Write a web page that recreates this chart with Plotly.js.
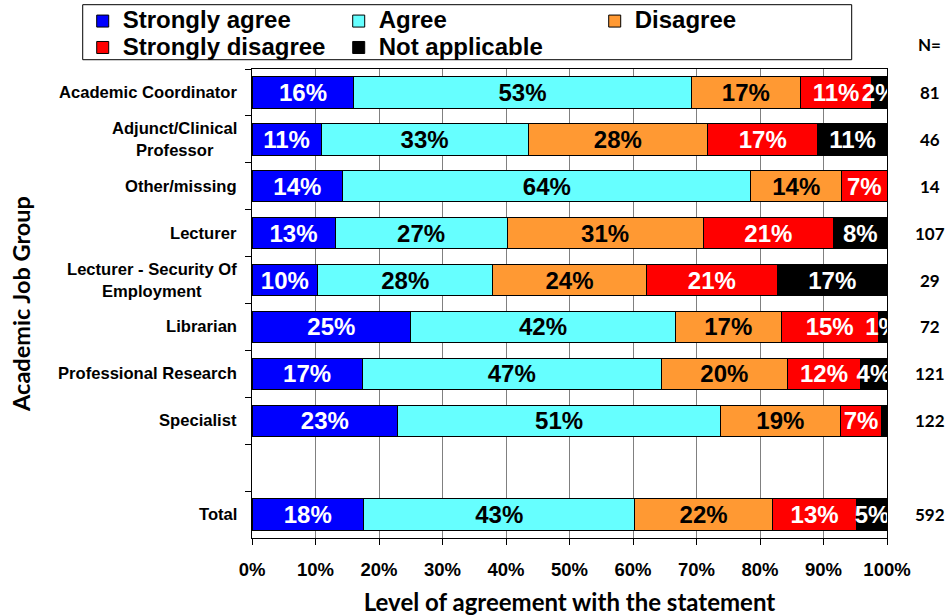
<!DOCTYPE html>
<html>
<head>
<meta charset="utf-8">
<script src="https://cdn.plot.ly/plotly-3.0.1.min.js"></script>
<style>
  html, body { margin: 0; padding: 0; background: #ffffff; }
  #chart { width: 945px; height: 616px; }
</style>
</head>
<body>
<div id="chart"></div>
<script>
// Academic job groups, top to bottom (blank spacer row before Total)
const groups = [
  'Academic Coordinator',
  'Adjunct/Clinical<br>Professor',
  'Other/missing',
  'Lecturer',
  'Lecturer - Security Of<br>Employment',
  'Librarian',
  'Professional Research',
  'Specialist',
  ' ',
  'Total'
];

// Number of respondents per group (N=)
const respondents = [81, 46, 14, 107, 29, 72, 121, 122, null, 592];

// Response counts per group
const stronglyAgree    = [13, 5, 2, 14, 3, 18, 21, 28, null, 104];
const agree            = [43, 15, 9, 29, 8, 30, 57, 62, null, 253];
const disagree         = [14, 13, 2, 33, 7, 12, 24, 23, null, 128];
const stronglyDisagree = [9, 8, 1, 22, 6, 11, 14, 8, null, 79];
const notApplicable    = [2, 5, 0, 9, 5, 1, 5, 1, null, 28];

// Percentage ticks on the x axis
const xTicks = [0, 10, 20, 30, 40, 50, 60, 70, 80, 90, 100];

const ARIAL = 'Liberation Sans, Arial, sans-serif';
const CALIBRI = 'Lato, Carlito, Calibri, sans-serif';

const series = [
  { name: 'Strongly agree',    counts: stronglyAgree,    fill: '#0000ff', ink: '#ffffff' },
  { name: 'Agree',             counts: agree,            fill: '#66ffff', ink: '#000000' },
  { name: 'Disagree',          counts: disagree,         fill: '#ff9933', ink: '#000000' },
  { name: 'Strongly disagree', counts: stronglyDisagree, fill: '#ff0000', ink: '#ffffff' },
  { name: 'Not applicable',    counts: notApplicable,    fill: '#000000', ink: '#ffffff' }
];

const traces = series.map(s => {
  const pct = s.counts.map((c, i) => (c === null ? null : c / respondents[i] * 100));
  return {
    type: 'bar',
    orientation: 'h',
    // larger legend lettering while keeping the legend rows compact
    name: '<span style="font-size:24px;font-weight:bold">' + s.name + '</span>',
    y: groups,
    x: pct,
    text: pct.map(p => (p !== null && p >= 1 ? Math.round(p) + '%' : '')),
    textposition: 'inside',
    insidetextanchor: 'middle',
    textangle: 0,
    constraintext: 'none',
    cliponaxis: true,
    insidetextfont: { family: ARIAL, size: 24, weight: 'bold', color: s.ink },
    marker: { color: s.fill, line: { color: '#000000', width: 1 } },
    hoverinfo: 'skip'
  };
});

const annotations = [];

// Group names beside the bars, centred line by line
groups.forEach((g, i) => {
  if (g.trim() === '') return;
  annotations.push({
    xref: 'paper', yref: 'y', x: -0.021, y: i,
    xanchor: 'right', yanchor: 'middle', align: 'center',
    text: g, showarrow: false,
    font: { family: ARIAL, size: 16.6, weight: 'bold', color: '#000000' }
  });
});

// N column on the right
annotations.push({
  xref: 'paper', yref: 'paper', x: 1.067, y: 1.052,
  xanchor: 'center', yanchor: 'middle', text: 'N=', showarrow: false,
  font: { family: CALIBRI, size: 17, weight: 'bold', color: '#000000' }
});
respondents.forEach((n, i) => {
  if (n === null) return;
  annotations.push({
    xref: 'paper', yref: 'y', x: 1.067, y: i,
    xanchor: 'center', yanchor: 'middle', text: String(n), showarrow: false,
    font: { family: CALIBRI, size: 17, weight: 'bold', color: '#000000' }
  });
});

const layout = {
  width: 945,
  height: 616,
  paper_bgcolor: '#ffffff',
  plot_bgcolor: '#ffffff',
  margin: { l: 252.3, r: 57.7, t: 69.3, b: 77.5, autoexpand: false },
  barmode: 'stack',
  bargap: 0.33,
  showlegend: true,
  legend: {
    orientation: 'h',
    xref: 'paper', yref: 'paper',
    x: -0.2666, y: 1.141,
    xanchor: 'left', yanchor: 'top',
    traceorder: 'normal',
    entrywidth: 211,
    entrywidthmode: 'pixels',
    bgcolor: 'rgba(0,0,0,0)',
    borderwidth: 0,
    font: { family: ARIAL, size: 18, weight: 'bold', color: '#000000' }
  },
  // frame around the legend
  shapes: [{
    type: 'rect', xref: 'paper', yref: 'paper',
    x0: -0.2666, x1: 0.9444, y0: 1.0198, y1: 1.1371,
    line: { color: '#000000', width: 1 },
    fillcolor: 'rgba(0,0,0,0)',
    layer: 'above'
  }],
  xaxis: {
    range: [0, 100],
    tickvals: xTicks,
    ticktext: xTicks.map(v => v + '%'),
    showgrid: true,
    gridcolor: '#808080',
    gridwidth: 1,
    zeroline: false,
    showline: true,
    linecolor: '#000000',
    linewidth: 1.3,
    mirror: true,
    ticks: 'outside',
    ticklen: 6,
    tickcolor: '#000000',
    ticklabelstandoff: 8,
    tickfont: { family: ARIAL, size: 18.5, weight: 'bold', color: '#000000' },
    title: {
      text: 'Level of agreement with the statement',
      font: { family: CALIBRI, size: 24, weight: 'bold', color: '#000000' },
      standoff: 16
    },
    fixedrange: true
  },
  yaxis: {
    type: 'category',
    categoryorder: 'array',
    categoryarray: groups,
    range: [9.5, -0.5],
    showticklabels: false,
    ticks: 'outside',
    tickson: 'boundaries',
    ticklen: 6,
    tickcolor: '#000000',
    showgrid: false,
    zeroline: false,
    showline: true,
    linecolor: '#000000',
    linewidth: 1.3,
    mirror: true,
    title: {
      text: 'Academic Job Group',
      font: { family: CALIBRI, size: 23.5, weight: 'bold', color: '#000000' },
      standoff: 213
    },
    fixedrange: true
  },
  annotations: annotations
};

Plotly.newPlot('chart', traces, layout, { displayModeBar: false, staticPlot: true });
</script>
</body>
</html>
